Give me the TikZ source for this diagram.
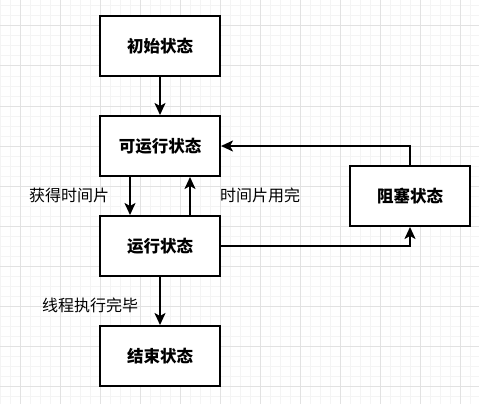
\documentclass[tikz,border=0pt]{standalone}
\usepackage{fontspec}
\newfontfamily\cjk{Noto Sans CJK SC}
\usetikzlibrary{arrows.meta}
\definecolor{gminor}{HTML}{F4F4F4}
\definecolor{gmajor}{HTML}{E2E2E2}
\begin{document}
\begin{tikzpicture}[x=1pt,y=-1pt,
  statebox/.style={draw=black,line width=2pt,fill=white,minimum width=120pt,minimum height=60pt,inner sep=0pt,font=\cjk\bfseries\fontsize{16.5pt}{18pt}\selectfont},
  lbl/.style={inner sep=0pt,font=\cjk\fontsize{16pt}{18pt}\selectfont},
  arr/.style={line width=2pt,-{Stealth[length=12pt,width=11pt,inset=3pt]}}]
\useasboundingbox (0,0) rectangle (479,404);
\fill[white] (0,0) rectangle (479,404);
\foreach \i in {0,...,47} \draw[gminor,line width=1pt] (\i*10+0.5,0) -- (\i*10+0.5,404);
\foreach \i in {0,...,40} \draw[gminor,line width=1pt] (0,\i*10+6) -- (479,\i*10+6);
\foreach \i in {0,...,11} \draw[gmajor,line width=1pt] (\i*40+20.5,0) -- (\i*40+20.5,404);
\foreach \i in {0,...,9} \draw[gmajor,line width=1pt] (0,\i*40+26) -- (479,\i*40+26);

\node[statebox] (init) at (160,46) {初始状态};
\node[statebox] (ready) at (160,146) {可运行状态};
\node[statebox] (run) at (160,246) {运行状态};
\node[statebox] (done) at (160,356) {结束状态};
\node[statebox] (block) at (410,196) {阻塞状态};

\draw[arr] (init) -- (ready);
\draw[arr] ([xshift=-30pt]ready.south) -- ([xshift=-30pt]run.north);
\draw[arr] ([xshift=30pt]run.north) -- ([xshift=30pt]ready.south);
\draw[arr] (run.east) -| (block.south);
\draw[arr] (block.north) |- (ready.east);
\draw[arr] (run) -- (done);

\node[lbl] (l1) at (69,195) {获得时间片};
\node[lbl] (l2) at (260,195) {时间片用完};
\node[lbl] (l3) at (90,305) {线程执行完毕};
\end{tikzpicture}
\end{document}
